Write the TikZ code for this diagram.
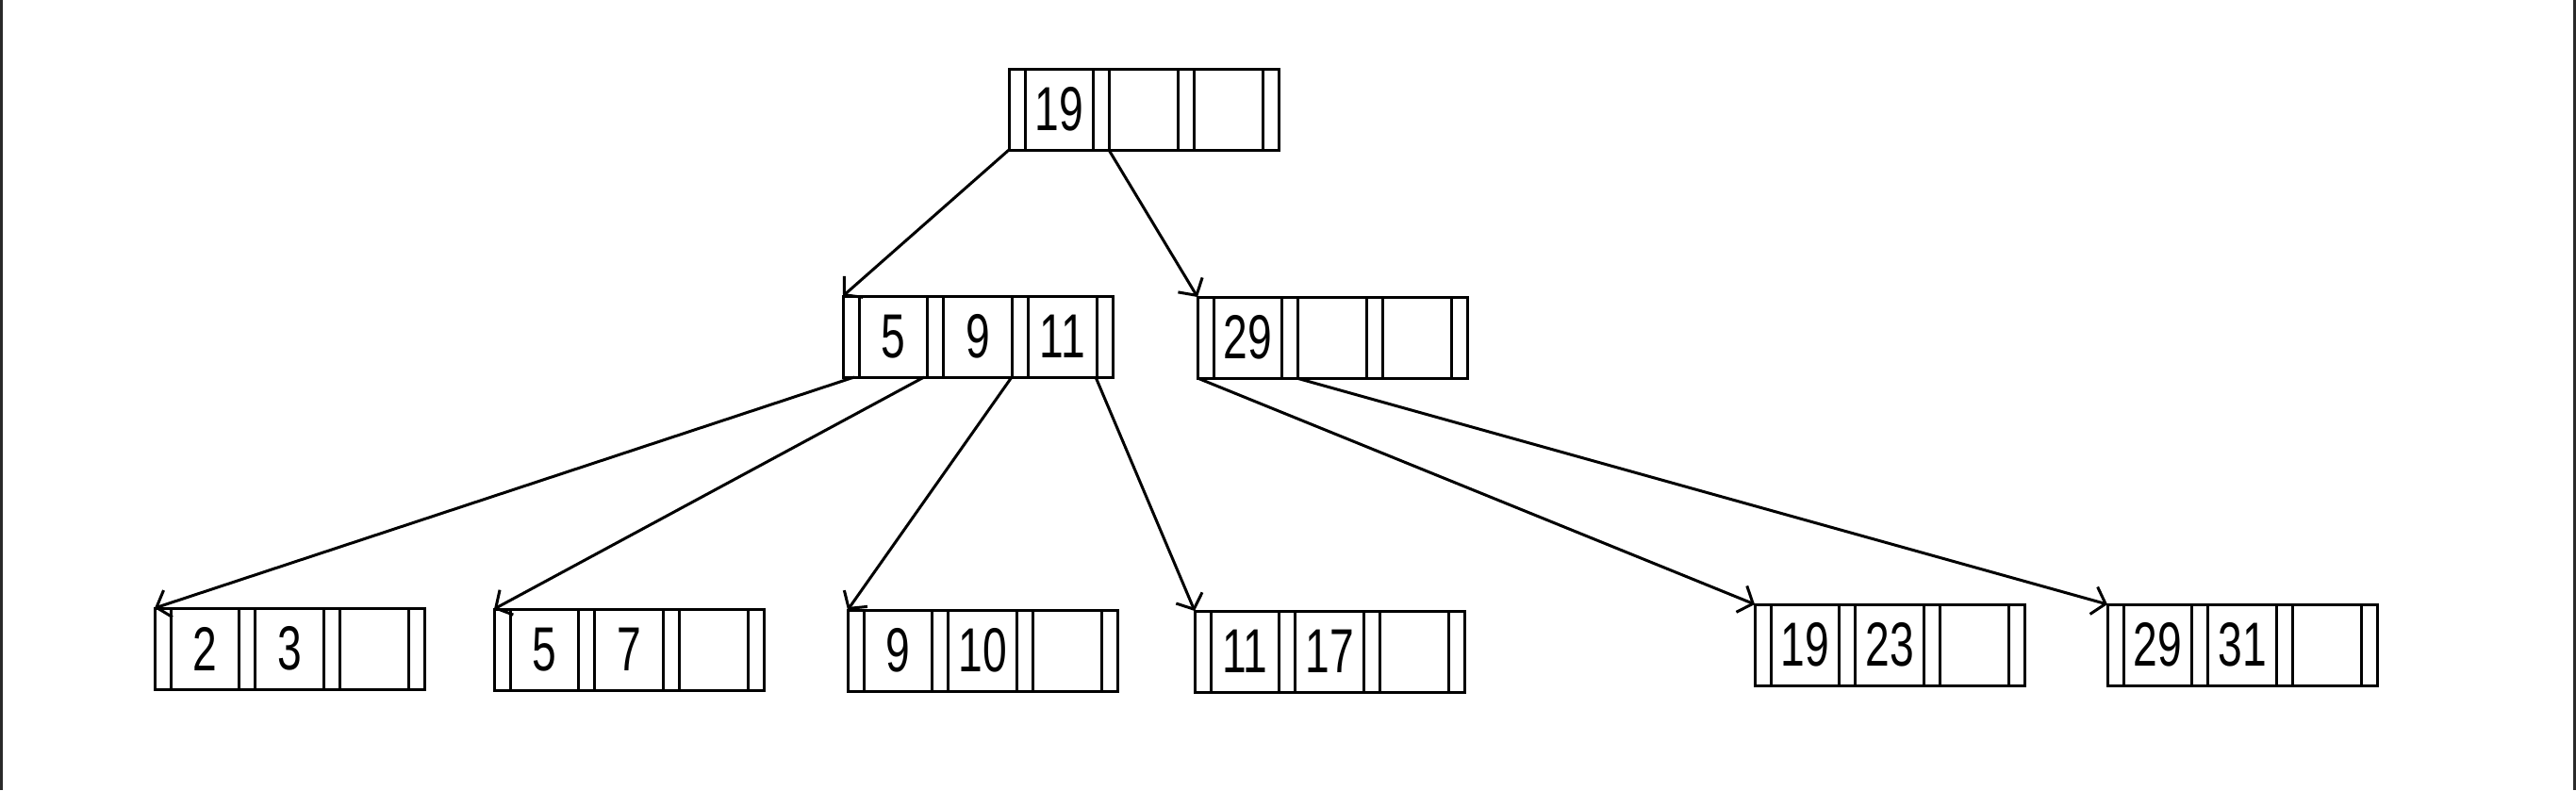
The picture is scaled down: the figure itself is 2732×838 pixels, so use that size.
\documentclass[tikz,border=0pt]{standalone}
\usepackage{fontspec}
\setmainfont{Liberation Sans}
\newfontfamily\handfont[FakeStretch=0.7]{Liberation Sans}
\usetikzlibrary{arrows.meta}
\definecolor{edgegray}{HTML}{2A2A2A}
\tikzset{
  bbox/.style={draw, line width=3pt, minimum width=286pt, minimum height=86pt, inner sep=0pt, outer sep=0pt, anchor=north west},
  keytext/.style={inner sep=0pt, font=\handfont\fontsize{66}{66}\selectfont},
  link/.style={line width=3pt, -{Straight Barb[length=13pt,width=30pt]}},
  divider/.style={line width=3pt},
}
\newcommand{\btnode}[6]{%
  \node[bbox] (#1) at (#2,#3) {};
  \foreach \o in {17,89.67,106.67,179.33,196.33,269}{
    \draw[divider] ([xshift=\o pt]#1.north west) -- ([xshift=\o pt]#1.south west);
  }
  \node[keytext] (#1-a) at ([xshift=53.3pt]#1.west) {#4};
  \node[keytext] (#1-b) at ([xshift=143pt]#1.west) {#5};
  \node[keytext] (#1-c) at ([xshift=232.7pt]#1.west) {#6};
}
\begin{document}
\begin{tikzpicture}[x=1pt,y=-1pt]
\fill[white] (0,0) rectangle (2732,838);
\useasboundingbox (0,0) rectangle (2732,838);
\draw[edgegray, line width=3pt] (1.5,0) -- (1.5,838);
\draw[edgegray, line width=3pt] (2730.5,0) -- (2730.5,838);

\btnode{root}{1070}{73}{19}{}{}
\btnode{midL}{894}{314}{5}{9}{11}
\btnode{midR}{1270}{315}{29}{}{}
\btnode{Lone}{164}{645}{2}{3}{}
\btnode{Ltwo}{524}{646}{5}{7}{}
\btnode{Lthree}{899}{647}{9}{10}{}
\btnode{Lfour}{1267}{648}{11}{17}{}
\btnode{Lfive}{1861}{641}{19}{23}{}
\btnode{Lsix}{2235}{641}{29}{31}{}

\draw[link] (root.south west) -- (midL.north west);
\draw[link] ([xshift=106pt]root.south west) -- (midR.north west);
\draw[link] ([xshift=12pt]midL.south west) -- (Lone.north west);
\draw[link] ([xshift=86pt]midL.south west) -- (Ltwo.north west);
\draw[link] ([xshift=179pt]midL.south west) -- (Lthree.north west);
\draw[link] ([xshift=268pt]midL.south west) -- (Lfour.north west);
\draw[link] (midR.south west) -- (Lfive.north west);
\draw[link] ([xshift=105pt]midR.south west) -- (Lsix.north west);
\end{tikzpicture}
\end{document}
